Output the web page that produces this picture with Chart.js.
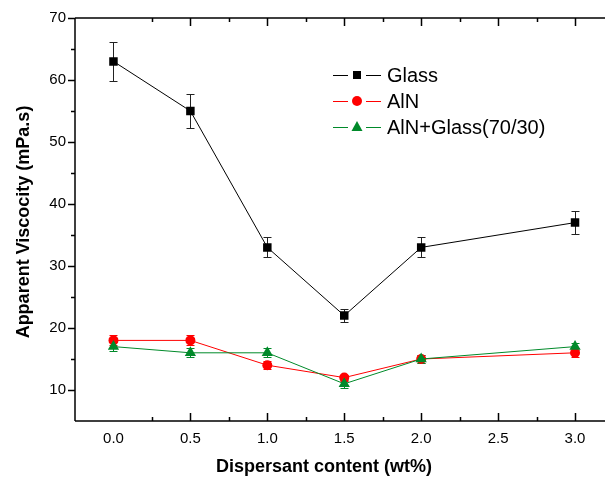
<!DOCTYPE html>
<html>
<head>
<meta charset="utf-8">
<script src="https://cdn.jsdelivr.net/npm/chart.js@4.4.0/dist/chart.umd.min.js"></script>
<style>
  html, body { margin: 0; padding: 0; background: #fff; overflow: hidden; }
  #wrap { width: 620px; height: 478px; }
</style>
</head>
<body>
<div id="wrap"><canvas id="chart" width="620" height="478"></canvas></div>
<script>
// ---------- DATA ----------
const content = [0, 0.5, 1.0, 1.5, 2.0, 3.0];
const glass = [63, 55, 33, 22, 33, 37];
const glassErr = [3.2, 2.7, 1.6, 1.0, 1.6, 1.8];
const aln = [18, 18, 14, 12, 15, 16];
const alnErr = [0.8, 0.8, 0.6, 0.5, 0.6, 0.7];
const mix = [17, 16, 16, 11, 15, 17];
const mixErr = [0.7, 0.7, 0.7, 0.6, 0.6, 0.6];
const xTicks = [0, 0.5, 1.0, 1.5, 2.0, 2.5, 3.0];
const yTicks = [10, 20, 30, 40, 50, 60, 70];
const seriesNames = ["Glass", "AlN", "AlN+Glass(70/30)"];

const FONT = "'Liberation Sans', Arial, Helvetica, sans-serif";
const BLACK = "#000000";
const RED = "#ff0000";
const GREEN = "#008a2a";

const errors = [glassErr, alnErr, mixErr];

function pts(vals) {
  return vals.map((v, i) => ({ x: content[i], y: v }));
}

// ---------- ERROR BARS ----------
const errorBars = {
  id: "errorBars",
  beforeDatasetsDraw(chart) {
    const ctx = chart.ctx;
    const xs = chart.scales.x, ys = chart.scales.y;
    chart.data.datasets.forEach((ds, d) => {
      const err = errors[d];
      ctx.save();
      ctx.strokeStyle = ds.errColor;
      ctx.lineWidth = 1;
      ds.data.forEach((p, i) => {
        const x = Math.round(xs.getPixelForValue(p.x)) + 0.5;
        const top = Math.round(ys.getPixelForValue(p.y + err[i])) + 0.5;
        const bot = Math.round(ys.getPixelForValue(p.y - err[i])) + 0.5;
        ctx.beginPath();
        ctx.moveTo(x, top); ctx.lineTo(x, bot);
        ctx.moveTo(x - 4, top); ctx.lineTo(x + 4, top);
        ctx.moveTo(x - 4, bot); ctx.lineTo(x + 4, bot);
        ctx.stroke();
      });
      ctx.restore();
    });
  }
};

// ---------- AXES FRAME, TICKS, TITLES, LEGEND ----------
function marker(ctx, style, color, x, y) {
  ctx.fillStyle = color;
  ctx.beginPath();
  if (style === "rect") {
    ctx.rect(x - 4, y - 4, 8, 8);
  } else if (style === "circle") {
    ctx.arc(x, y, 5, 0, Math.PI * 2);
  } else {
    ctx.moveTo(x, y - 6);
    ctx.lineTo(x + 5.5, y + 4);
    ctx.lineTo(x - 5.5, y + 4);
    ctx.closePath();
  }
  ctx.fill();
}

const frame = {
  id: "frame",
  afterDraw(chart) {
    const ctx = chart.ctx;
    const a = chart.chartArea;
    const xs = chart.scales.x, ys = chart.scales.y;
    ctx.save();
    ctx.strokeStyle = BLACK;
    ctx.lineWidth = 1.5;
    ctx.beginPath();
    ctx.moveTo(a.left, a.top); ctx.lineTo(a.left, a.bottom);
    ctx.moveTo(a.left, a.bottom); ctx.lineTo(a.right, a.bottom);
    ctx.moveTo(a.left, a.top); ctx.lineTo(a.right, a.top);
    ctx.stroke();

    ctx.lineWidth = 1.5;
    ctx.beginPath();
    // y ticks, outward
    for (let v = 10; v <= 70; v += 5) {
      const y = Math.round(ys.getPixelForValue(v)) + 0.5;
      const len = v % 10 === 0 ? 7 : 4;
      ctx.moveTo(a.left - len, y); ctx.lineTo(a.left, y);
    }
    // x ticks, inward on bottom and top
    for (let v = 0.25; v <= 3.25; v += 0.25) {
      const x = Math.round(xs.getPixelForValue(v)) + 0.5;
      const major = Math.abs(v * 2 - Math.round(v * 2)) < 1e-6;
      const len = major ? 8 : 4;
      ctx.moveTo(x, a.bottom); ctx.lineTo(x, a.bottom - len);
      ctx.moveTo(x, a.top); ctx.lineTo(x, a.top + len);
    }
    ctx.stroke();

    // axis titles
    ctx.fillStyle = BLACK;
    ctx.font = "bold 18px " + FONT;
    ctx.textAlign = "center";
    ctx.textBaseline = "alphabetic";
    ctx.fillText("Dispersant content (wt%)", 324, 472);
    ctx.save();
    ctx.translate(29, 222);
    ctx.rotate(-Math.PI / 2);
    ctx.fillText("Apparent Viscocity (mPa.s)", 0, 0);
    ctx.restore();

    // legend
    const rows = [75, 101, 127];
    ctx.font = "20px " + FONT;
    ctx.textAlign = "left";
    ctx.textBaseline = "middle";
    chart.data.datasets.forEach((ds, i) => {
      const y = rows[i];
      ctx.strokeStyle = ds.borderColor;
      ctx.lineWidth = 1;
      ctx.beginPath();
      ctx.moveTo(333, y + 0.5); ctx.lineTo(348, y + 0.5);
      ctx.moveTo(366, y + 0.5); ctx.lineTo(381, y + 0.5);
      ctx.stroke();
      marker(ctx, ds.pointStyle, ds.pointBackgroundColor, 357, y);
      ctx.fillStyle = BLACK;
      ctx.fillText(seriesNames[i], 387, y + 1);
    });
    ctx.restore();
  }
};

// ---------- CHART ----------
const chart = new Chart(document.getElementById("chart").getContext("2d"), {
  type: "line",
  data: {
    datasets: [
      {
        label: seriesNames[0], data: pts(glass), order: 2,
        borderColor: BLACK, borderWidth: 1, errColor: "#222222",
        pointStyle: "rect", pointRadius: 6,
        pointBackgroundColor: BLACK, pointBorderColor: BLACK, pointBorderWidth: 0
      },
      {
        label: seriesNames[1], data: pts(aln), order: 1,
        borderColor: RED, borderWidth: 1, errColor: RED,
        pointStyle: "circle", pointRadius: 5,
        pointBackgroundColor: RED, pointBorderColor: RED, pointBorderWidth: 0
      },
      {
        label: seriesNames[2], data: pts(mix), order: 0,
        borderColor: GREEN, borderWidth: 1, errColor: GREEN,
        pointStyle: "triangle", pointRadius: 6.5,
        pointBackgroundColor: GREEN, pointBorderColor: GREEN, pointBorderWidth: 0
      }
    ]
  },
  options: {
    responsive: false,
    animation: false,
    events: [],
    layout: { padding: { left: 0, top: 18, right: 5, bottom: 0 } },
    plugins: { legend: { display: false }, tooltip: { enabled: false } },
    scales: {
      x: {
        type: "linear", min: -0.25, max: 3.25,
        grid: { display: false, drawTicks: false },
        border: { display: false },
        ticks: {
          padding: 9, color: BLACK, autoSkip: false, maxRotation: 0,
          font: { family: FONT, size: 15 },
          callback: v => v.toFixed(1)
        },
        afterBuildTicks: s => { s.ticks = xTicks.map(v => ({ value: v })); },
        afterFit: s => { s.height = 57; }
      },
      y: {
        type: "linear", min: 5, max: 70,
        grid: { display: false, drawTicks: false },
        border: { display: false },
        ticks: {
          padding: 9, color: BLACK, autoSkip: false,
          font: { family: FONT, size: 15 }
        },
        afterBuildTicks: s => { s.ticks = yTicks.map(v => ({ value: v })); },
        afterFit: s => { s.width = 75; }
      }
    }
  },
  plugins: [errorBars, frame]
});
</script>
</body>
</html>
